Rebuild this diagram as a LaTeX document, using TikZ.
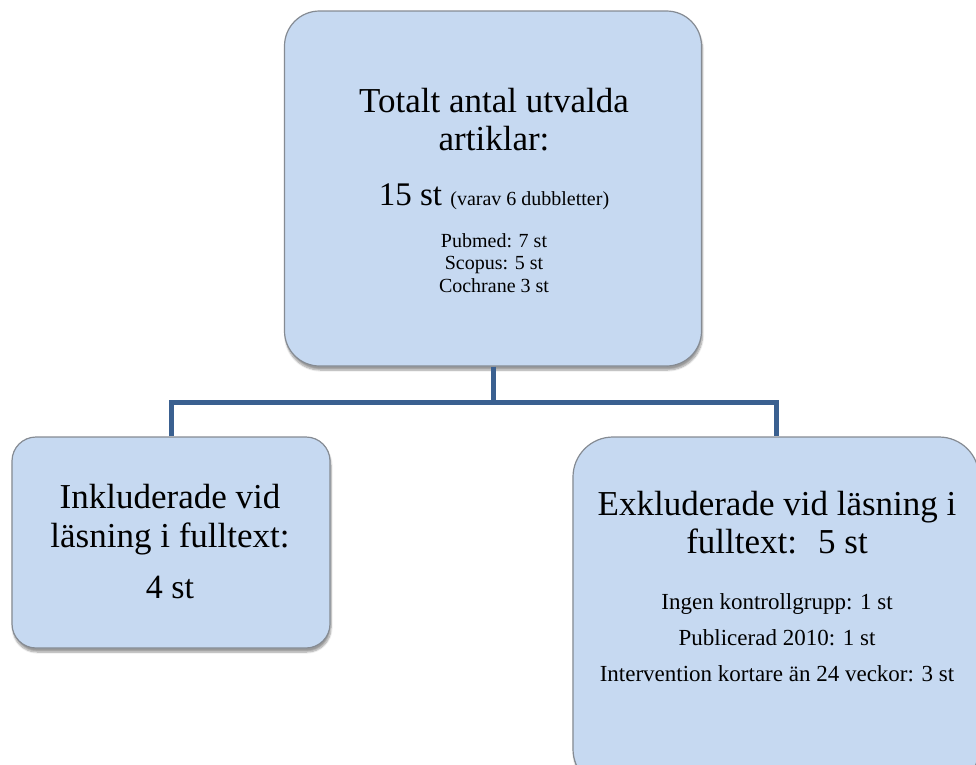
\documentclass[tikz,border=0pt]{standalone}
\usepackage{fontspec}
\setmainfont{Liberation Serif}
\usetikzlibrary{shadows.blur}
\definecolor{boxfill}{HTML}{C6D9F1}
\definecolor{boxline}{HTML}{858B93}
\definecolor{conn}{HTML}{3A6090}
\begin{document}
\begin{tikzpicture}[x=1pt,y=-1pt,
  box/.style={draw=boxline, line width=1.2pt, fill=boxfill, rounded corners=#1,
    blur shadow={shadow xshift=1pt, shadow yshift=-4pt, shadow blur steps=8, shadow opacity=40},
    inner sep=0pt},
  big/.style={font=\fontsize{35}{42}\selectfont, inner sep=0pt, anchor=base},
  small/.style={font=\fontsize{20}{24}\selectfont, inner sep=0pt, anchor=base},
  smallr/.style={font=\fontsize{23}{27}\selectfont, inner sep=0pt, anchor=base},
  link/.style={draw=conn, line width=5pt}]
\useasboundingbox (0,0) rectangle (976,764);
% boxes
\node[box=35pt, minimum width=417pt, minimum height=355pt] (top) at (493,188.5) {};
\node[box=24pt, minimum width=318pt, minimum height=211pt] (left) at (171,542.5) {};
\node[box=40pt, minimum width=406pt, minimum height=352pt] (right) at (776,613) {};
% connectors
\coordinate (j) at (493,402);
\draw[link] (top.south) -- (j);
\draw[link] (left.north) |- (j) -| (right.north);
% top box text
\node[big] (t1) at (494,112) {Totalt antal utvalda};
\node[big] (t2) at (494,150) {artiklar:};
\node[big, font=\fontsize{33}{40}\selectfont] (t3) at (494,205) {15 st {\fontsize{20}{24}\selectfont (varav 6 dubbletter)}};
\node[small] (t4) at (494,247) {Pubmed: 7 st};
\node[small] (t5) at (494,269.5) {Scopus: 5 st};
\node[small] (t6) at (494,292) {Cochrane 3 st};
% left box text
\node[big] (l1) at (170,508) {Inkluderade vid};
\node[big] (l2) at (170,547) {läsning i fulltext:};
\node[big, font=\fontsize{34}{40}\selectfont] (l3) at (170,598) {4 st};
% right box text
\node[big] (r1) at (777,515) {Exkluderade vid läsning i};
\node[big] (r2) at (777,553) {fulltext:\hspace{0.6em}5 st};
\node[smallr] (r3) at (777,609) {Ingen kontrollgrupp: 1 st};
\node[smallr] (r4) at (777,645) {Publicerad 2010: 1 st};
\node[smallr] (r5) at (777,681) {Intervention kortare än 24 veckor: 3 st};
\end{tikzpicture}
\end{document}
